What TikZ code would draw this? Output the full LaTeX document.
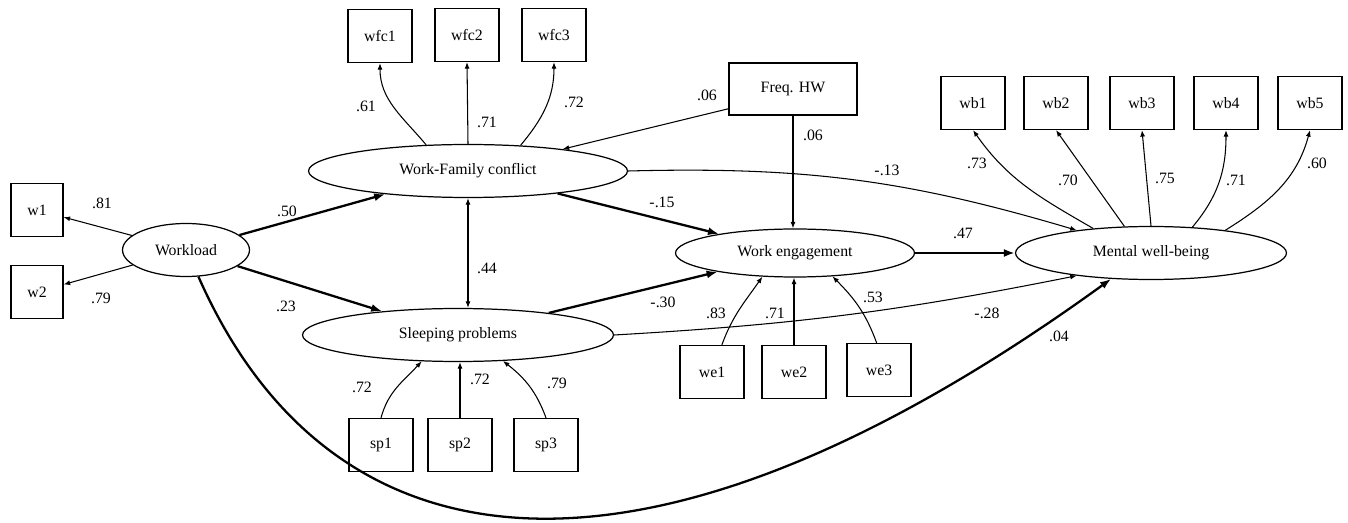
\documentclass[tikz,border=0pt]{standalone}
\usepackage{fontspec}
\setmainfont{Liberation Serif}
\usetikzlibrary{shapes.geometric, arrows.meta}

\begin{document}
\begin{tikzpicture}[x=0.02cm, y=0.02cm, font=\fontsize{9}{11}\selectfont,
    obs/.style={draw, line width=0.7pt, minimum width=1.28cm, minimum height=1.06cm, inner sep=0pt},
    lat/.style={draw, ellipse, line width=0.7pt, minimum height=1.06cm, inner sep=0pt},
    coef/.style={inner sep=1pt},
    thinarrow/.style={-{Latex[length=1.3mm,width=1mm]}, line width=0.6pt},
    thickarrow/.style={-{Latex[length=2.2mm,width=1.6mm]}, line width=1.3pt}]

    \useasboundingbox (0,0) rectangle (1348,-523);

    % latent variables
    \node[lat, minimum width=2.54cm] (wl) at (186,-250) {Workload};
    \node[lat, minimum width=6.38cm] (wfc) at (468,-171) {Work-Family conflict};
    \node[lat, minimum width=6.22cm] (sp) at (458,-335) {Sleeping problems};
    \node[lat, minimum width=4.78cm, minimum height=0.96cm] (we) at (795,-253) {Work engagement};
    \node[lat, minimum width=5.42cm] (mwb) at (1151,-253) {Mental well-being};

    % observed variables
    \node[obs, minimum width=1.04cm] (w1) at (37,-210) {w1};
    \node[obs, minimum width=1.04cm] (w2) at (37,-292) {w2};
    \node[obs] (wfc1) at (380,-36) {wfc1};
    \node[obs] (wfc2) at (467,-35) {wfc2};
    \node[obs] (wfc3) at (554,-35) {wfc3};
    \node[obs, minimum width=2.56cm, minimum height=1.04cm] (fhw) at (793,-89) {Freq. HW};
    \node[obs] (sp1) at (381,-445) {sp1};
    \node[obs] (sp2) at (460,-445) {sp2};
    \node[obs] (sp3) at (546,-445) {sp3};
    \node[obs] (we1) at (712,-372) {we1};
    \node[obs] (we2) at (794,-372) {we2};
    \node[obs] (we3) at (879,-370) {we3};
    \node[obs] (wb1) at (973,-103) {wb1};
    \node[obs] (wb2) at (1056,-103) {wb2};
    \node[obs] (wb3) at (1142,-103) {wb3};
    \node[obs] (wb4) at (1226,-103) {wb4};
    \node[obs] (wb5) at (1310,-103) {wb5};

    % measurement part
    \draw[thinarrow] (wl) -- (w1);
    \draw[thinarrow] (wl) -- (w2);
    \draw[thinarrow] (wfc.148) to[out=130, in=-90] (wfc1.south);
    \draw[thinarrow] (wfc.north) -- (wfc2.south);
    \draw[thinarrow] (wfc.26) to[out=50, in=-90] (wfc3.south);
    \draw[thinarrow] (mwb.157) to[out=150, in=-55] (wb1.south);
    \draw[thinarrow] (mwb.135) -- (wb2.south);
    \draw[thinarrow] (mwb.north) -- (wb3.south);
    \draw[thinarrow] (mwb.32) to[out=50, in=-90] (wb4.south);
    \draw[thinarrow] (mwb.17) to[out=32, in=-105] (wb5.south);
    \draw[thinarrow] (we1.70) to[out=70, in=-125] (we.216);
    \draw[thinarrow] (we2.north) -- (we2.north |- we.south);
    \draw[thinarrow] (we3.95) to[out=110, in=-45] (we.-32);
    \draw[thinarrow] (sp1.north) to[out=75, in=-133] (sp.216);
    \draw[thinarrow] (sp2.north) -- (sp2.north |- sp.south);
    \draw[thinarrow] (sp3.north) to[out=110, in=-38] (sp.-30);

    % structural part
    \draw[thickarrow] (wl) -- (wfc);
    \draw[thickarrow] (wl) -- (sp);
    \draw[thickarrow] (wfc) -- (we);
    \draw[thickarrow] (sp) -- (we);
    \draw[thickarrow] (we) -- (mwb);
    \draw[thickarrow] (wl.295) .. controls (330,-575) and (640,-620) .. (mwb.213);
    \draw[thinarrow] (wfc.east) to[bend left=9] (mwb.163);
    \draw[thinarrow] (sp.east) to[bend right=4] (mwb.197);
    \draw[thinarrow, {Latex[length=1.3mm,width=1mm]}-{Latex[length=1.3mm,width=1mm]}] (wfc.south) -- (wfc.south |- sp.north);
    \draw[thinarrow] (fhw.197) -- (wfc.13);
    \draw[thinarrow] (fhw.south) -- (fhw.south |- we.north);

    % coefficients
    \node[coef] (c-w1) at (102,-203) {.81};
    \node[coef] (c-w2) at (101,-298) {.79};
    \node[coef] (c-wfc) at (287,-211) {.50};
    \node[coef] (c-sp) at (286,-306) {.23};
    \node[coef] (c-wfc1) at (366,-106) {.61};
    \node[coef] (c-wfc2) at (487,-122) {.71};
    \node[coef] (c-wfc3) at (574,-102) {.72};
    \node[coef] (c-fhwa) at (707,-95) {.06};
    \node[coef] (c-fhwb) at (813,-135) {.06};
    \node[coef] (c-wfcmwb) at (887,-170) {-.13};
    \node[coef] (c-wfcwe) at (662,-202) {-.15};
    \node[coef] (c-wemwb) at (963,-233) {.47};
    \node[coef] (c-cov) at (487,-268) {.44};
    \node[coef] (c-spwe) at (663,-302) {-.30};
    \node[coef] (c-we1) at (716,-313) {.83};
    \node[coef] (c-we2) at (775,-313) {.71};
    \node[coef] (c-we3) at (873,-297) {.53};
    \node[coef] (c-spmwb) at (987,-313) {-.28};
    \node[coef] (c-wb1) at (977,-163) {.73};
    \node[coef] (c-wb2) at (1068,-180) {.70};
    \node[coef] (c-wb3) at (1165,-178) {.75};
    \node[coef] (c-wb4) at (1236,-180) {.71};
    \node[coef] (c-wb5) at (1317,-163) {.60};
    \node[coef] (c-sp1) at (362,-387) {.72};
    \node[coef] (c-sp2) at (480,-379) {.72};
    \node[coef] (c-sp3) at (557,-383) {.79};
    \node[coef] (c-wlmwb) at (1059,-336) {.04};

\end{tikzpicture}
\end{document}
